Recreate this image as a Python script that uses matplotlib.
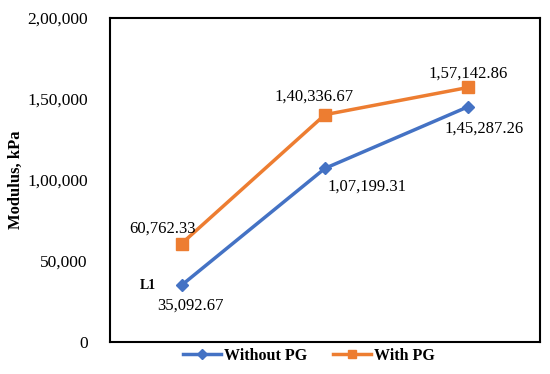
import matplotlib
matplotlib.use("Agg")
import matplotlib.pyplot as plt
from matplotlib.ticker import FuncFormatter

categories = ["L1", "L2", "L3"]
without_pg = [35092.67, 107199.31, 145287.26]
with_pg = [60762.33, 140336.67, 157142.86]

def indian(v, decimals=0):
    neg = v < 0
    v = abs(v)
    s = f"{v:.{decimals}f}"
    if "." in s:
        ip, dp = s.split(".")
    else:
        ip, dp = s, None
    if len(ip) > 3:
        head, tail = ip[:-3], ip[-3:]
        groups = []
        while len(head) > 2:
            groups.insert(0, head[-2:])
            head = head[:-2]
        if head:
            groups.insert(0, head)
        ip = ",".join(groups) + "," + tail
    out = ip + ("." + dp if dp else "")
    return ("-" if neg else "") + out

plt.rcParams['font.family'] = ['Liberation Serif', 'DejaVu Serif']

fig = plt.figure(figsize=(5.5, 3.74), dpi=100)
ax = fig.add_axes([110/550, 1-342/374, 430/550, 324/374])

x = list(range(len(categories)))
ax.plot(x, without_pg, color="#4472C4", lw=2.5, marker="D", ms=6, label="Without PG")
ax.plot(x, with_pg, color="#ED7D31", lw=2.5, marker="s", ms=8, label="With PG")

ax.set_xlim(-0.5, 2.5)
ax.set_ylim(0, 200000)
ax.set_yticks([0, 50000, 100000, 150000, 200000])
ax.yaxis.set_major_formatter(FuncFormatter(lambda v, p: indian(v)))
ax.set_xticks([])
ax.tick_params(axis="y", length=0, pad=16, labelsize=12.5)
for s in ax.spines.values():
    s.set_linewidth(1.5)
    s.set_color("black")

ax.set_ylabel("Modulus, kPa", fontsize=12, fontweight="bold")
ax.yaxis.set_label_coords(-(110 - 24) / 430, 0.5)

fs = 12
offs_w = [(6, -15), (30, -13), (11, -16)]
offs_p = [(-14, 11), (-8, 13), (0, 10)]
for i in x:
    ax.annotate(indian(without_pg[i], 2), (i, without_pg[i]), xytext=offs_w[i],
                textcoords="offset points", ha="center", va="center", fontsize=fs)
    ax.annotate(indian(with_pg[i], 2), (i, with_pg[i]), xytext=offs_p[i],
                textcoords="offset points", ha="center", va="center", fontsize=fs)

ax.annotate(categories[0], (0, without_pg[0]), xytext=(-24, 0), textcoords="offset points",
            ha="center", va="center", fontsize=10, fontweight="bold")

fig.legend(*ax.get_legend_handles_labels(), loc="center", bbox_to_anchor=(309/550, 1-356/374),
           ncol=2, frameon=False, prop={"weight": "bold", "size": 11.5}, handlelength=2.4,
           columnspacing=1.6, handletextpad=0.2, markerscale=0.8, borderpad=0)

fig.savefig("out.png", dpi=100)
